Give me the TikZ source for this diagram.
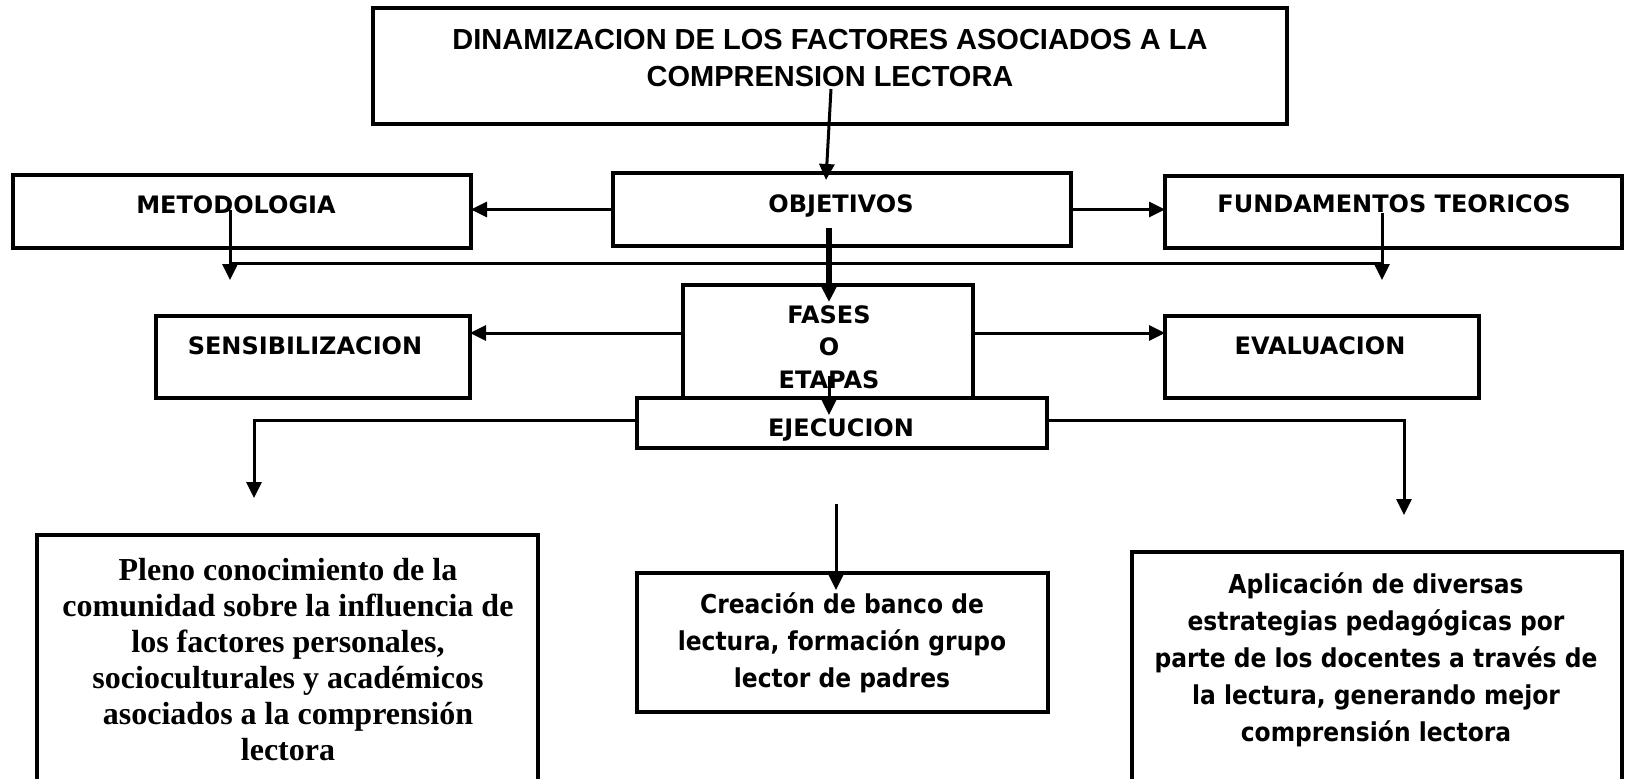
\documentclass[tikz,border=0pt]{standalone}
\usepackage{fontspec}
\setmainfont{Liberation Serif}
\newfontfamily\titfont{Liberation Sans}
\newfontfamily\verfont{DejaVu Sans}
\newfontfamily\tahfont[FakeStretch=0.9]{DejaVu Sans}
\usetikzlibrary{arrows.meta}
\tikzset{
  caja/.style={draw, line width=3.5pt, inner sep=0pt, outer sep=0pt, anchor=north west},
  flecha/.style={line width=3pt, -{Triangle[length=16pt,width=15pt]}},
  linea/.style={line width=3pt},
  tit/.style={font=\titfont\bfseries\fontsize{29}{37}\selectfont, align=center, anchor=base, inner sep=0pt},
  cab/.style={font=\verfont\bfseries\fontsize{24}{32.5}\selectfont, align=center, anchor=base, inner sep=0pt},
  txs/.style={font=\tahfont\bfseries\fontsize{26}{37}\selectfont, align=center, anchor=base, inner sep=0pt},
  txr/.style={font=\bfseries\fontsize{32}{36}\selectfont, align=center, anchor=base, inner sep=0pt}
}
\begin{document}
\begin{tikzpicture}[x=1pt,y=-1pt]
\useasboundingbox (0,0) rectangle (1625,779);
\node[caja, minimum width=914, minimum height=116] (titulo) at (373,8) {};
\node[caja, minimum width=458, minimum height=73] (metod) at (13,175) {};
\node[caja, minimum width=458, minimum height=73] (obj) at (613,173) {};
\node[caja, minimum width=457, minimum height=72] (fund) at (1165,176) {};
\node[caja, minimum width=314, minimum height=82] (sens) at (156,316) {};
\node[caja, minimum width=290, minimum height=113] (fases) at (683,285) {};
\node[caja, minimum width=314, minimum height=82] (eval) at (1165,316) {};
\node[caja, fill=white, minimum width=410, minimum height=50] (ejec) at (637,398) {};
\node[caja, minimum width=501, minimum height=265] (pleno) at (37,535) {};
\node[caja, minimum width=411, minimum height=139] (banco) at (637,573) {};
\node[caja, minimum width=490, minimum height=248] (aplic) at (1132,552) {};

\node[tit] (ttitulo) at (830,86) {DINAMIZACION DE LOS FACTORES ASOCIADOS A LA\\COMPRENSION LECTORA};
\node[cab] (tmetod) at (236,213) {METODOLOGIA};
\node[cab] (tobj) at (841,212) {OBJETIVOS};
\node[cab] (tfund) at (1394,212) {FUNDAMENTOS TEORICOS};
\node[cab] (tsens) at (305,354) {SENSIBILIZACION};
\node[cab] (tfases) at (829,388) {FASES\\O\\ETAPAS};
\node[cab] (teval) at (1320,354) {EVALUACION};
\node[cab] (tejec) at (841,436) {EJECUCION};
\node[txr] (tpleno) at (288,760) {Pleno conocimiento de la\\comunidad sobre la influencia de\\los factores personales,\\socioculturales y académicos\\asociados a la comprensión\\lectora};
\node[txs] (tbanco) at (842,687) {Creación de banco de\\lectura, formación grupo\\lector de padres};
\node[txs] (taplic) at (1376,741) {Aplicación de diversas\\estrategias pedagógicas por\\parte de los docentes a través de\\la lectura, generando mejor\\comprensión lectora};

\coordinate (t1) at (831,89);
\coordinate (t2) at (826,180);
\coordinate (m1) at (230,210);
\coordinate (m2) at (230,280);
\coordinate (f1) at (1382,213);
\coordinate (f2) at (1382,280);
\coordinate (o1) at (829,228);
\coordinate (o2) at (829,302);
\coordinate (e1) at (829,376);
\coordinate (e2) at (829,415);
\coordinate (izq) at (254,498);
\coordinate (der) at (1404,515);
\coordinate (b1) at (836,504);
\coordinate (b2) at (836,590);

\draw[flecha] (t1) -- (t2);
\draw[flecha] (obj.west) -- (obj.west -| metod.east);
\draw[flecha] (obj.east) -- (obj.east -| fund.west);
\draw[flecha] (m1) -- (m2);
\draw[flecha] (f1) -- (f2);
\draw[linea] (m1 |- 0,263) -- (f1 |- 0,263);
\draw[flecha, line width=5.5pt] (o1) -- (o2);
\draw[flecha] ([yshift=8.5pt]fases.west) -- ([yshift=8.5pt]fases.west -| sens.east);
\draw[flecha] ([yshift=8.5pt]fases.east) -- ([yshift=8.5pt]fases.east -| eval.west);
\draw[flecha] (e1) -- (e2);
\draw[flecha] ([yshift=3pt]ejec.west) -| (izq);
\draw[flecha] ([yshift=3pt]ejec.east) -| (der);
\draw[flecha] (b1) -- (b2);
\end{tikzpicture}
\end{document}
